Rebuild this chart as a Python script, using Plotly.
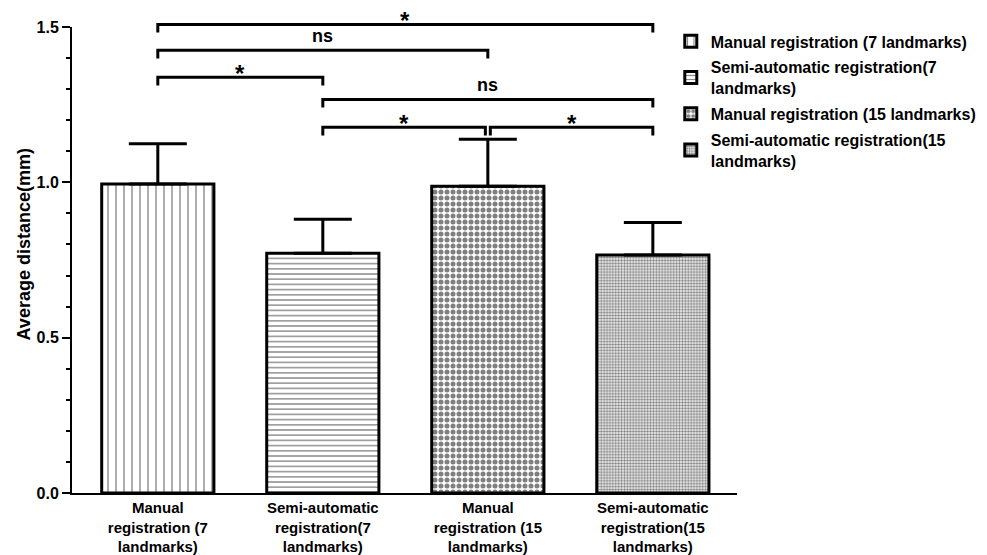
import plotly.graph_objects as go

categories = ["Manual<br>registration (7<br>landmarks)",
              "Semi-automatic<br>registration(7<br>landmarks)",
              "Manual<br>registration (15<br>landmarks)",
              "Semi-automatic<br>registration(15<br>landmarks)"]
legend_names = ["Manual registration (7 landmarks)",
                "Semi-automatic registration(7<br>landmarks)",
                "Manual registration (15 landmarks)",
                "Semi-automatic registration(15<br>landmarks)"]
y_title = "Average distance(mm)"
means = [0.995, 0.772, 0.987, 0.766]
errors = [0.129, 0.109, 0.152, 0.105]
# comparisons: (from index, to index, bracket height, label)
comp_from = [0, 0, 0, 1, 1, 2]
comp_to = [3, 2, 1, 3, 2, 3]
comp_y = [1.508, 1.425, 1.338, 1.267, 1.177, 1.177]
comp_label = ["*", "ns", "*", "ns", "*", "*"]

YMAX = 1.5
FONT = "Liberation Sans, Arial, sans-serif"

patterns = [dict(shape="|", size=8, solidity=0.16, fgcolor="black", bgcolor="white"),
            dict(shape="-", size=5.2, solidity=0.25, fgcolor="black", bgcolor="white"),
            dict(shape=".", size=6, solidity=0.55, fgcolor="black", bgcolor="white"),
            dict(shape=".", size=2.9, solidity=0.5, fgcolor="black", bgcolor="white")]

fig = go.Figure()
for i in range(4):
    fig.add_trace(go.Bar(
        x=[i], y=[means[i]], name=legend_names[i], width=0.68,
        marker=dict(color="white", pattern=patterns[i], line=dict(color="black", width=3)),
        error_y=dict(type="data", array=[errors[i]], arrayminus=[0], symmetric=False,
                     color="black", thickness=3, width=29),
        legendgroup=str(i),
    ))

tick_len = 0.026
for a, b, h, lab in zip(comp_from, comp_to, comp_y, comp_label):
    xa, xb = a, b
    if lab == "*" and h == comp_y[4]:
        if a == 1:
            xb = b - 0.015
        else:
            xa = a + 0.015
    yp = h / YMAX
    tp = (h - tick_len) / YMAX
    fig.add_shape(type="path", xref="x", yref="paper",
                  path=f"M {xa} {tp} L {xa} {yp} L {xb} {yp} L {xb} {tp}",
                  line=dict(color="black", width=3))
    fig.add_annotation(x=(xa + xb) / 2, y=yp, xref="x", yref="paper", text=lab,
                       showarrow=False, yanchor="middle",
                       yshift=4 if lab == "*" else 14,
                       font=dict(family=FONT, size=24 if lab == "*" else 18,
                                 color="black", weight="bold"))

# y-axis title placed as rotated text
fig.add_annotation(x=0, y=0.80 / YMAX, xref="paper", yref="paper", text=y_title,
                   showarrow=False, textangle=-90, xanchor="center", yanchor="middle",
                   xshift=-48,
                   font=dict(family=FONT, size=18, color="black", weight="bold"))

fig.update_layout(
    width=979, height=547,
    margin=dict(l=64, r=250, t=19, b=62, autoexpand=False),
    plot_bgcolor="white", paper_bgcolor="white",
    showlegend=True,
    legend=dict(x=0.677, y=0.970, xref="container", yref="container",
                xanchor="left", yanchor="top",
                font=dict(family=FONT, size=16, color="black", weight="bold"),
                tracegroupgap=2, bgcolor="rgba(0,0,0,0)"),
    font=dict(family=FONT, color="black"),
)
fig.update_xaxes(range=[-0.52, 3.51], tickvals=list(range(4)), ticktext=categories,
                 showline=True, linecolor="black", linewidth=2, ticks="",
                 showgrid=False, zeroline=False,
                 tickfont=dict(family=FONT, size=15, color="black", weight="bold"))
fig.update_yaxes(range=[0, YMAX], tickvals=[0, 0.5, 1.0, 1.5],
                 ticktext=["0.0", "0.5", "1.0", "1.5"],
                 showline=True, linecolor="black", linewidth=2,
                 ticks="outside", ticklen=8, tickwidth=2, tickcolor="black",
                 minor=dict(dtick=0.1, ticks="outside", ticklen=4, tickwidth=2, tickcolor="black"),
                 showgrid=False, zeroline=False,
                 tickfont=dict(family=FONT, size=16, color="black", weight="bold"))

fig.write_html("out.html")
